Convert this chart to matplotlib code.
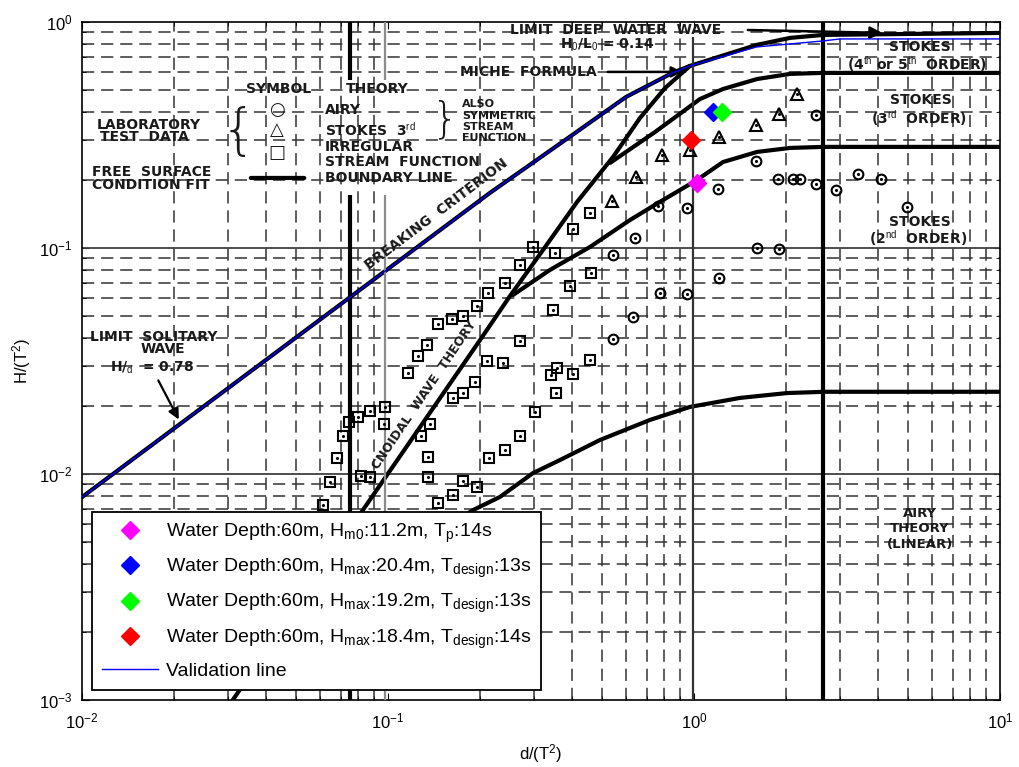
import matplotlib
matplotlib.use("Agg")
import matplotlib.pyplot as plt

plt.rcParams['font.family'] = ['Liberation Sans', 'DejaVu Sans']
plt.rcParams['mathtext.fontset'] = 'custom'
plt.rcParams['mathtext.rm'] = 'Liberation Sans'
plt.rcParams['mathtext.it'] = 'Liberation Sans:italic'
plt.rcParams['mathtext.bf'] = 'Liberation Sans:bold'
plt.rcParams['axes.unicode_minus'] = False

# validation line (blue)
valid_x = [0.01, 0.137, 0.215, 0.40, 0.60, 0.85, 0.97, 1.6, 2.64, 3.0, 10]
valid_y = [0.0079, 0.111, 0.175, 0.316, 0.466, 0.595, 0.639, 0.775, 0.824, 0.841, 0.841]

# boundary lines of the background diagram
break_x = [0.01, 0.137, 0.215, 0.40, 0.60, 0.85, 0.97, 1.6, 2.06, 2.64, 10]
break_y = [0.0079, 0.111, 0.175, 0.316, 0.466, 0.595, 0.639, 0.791, 0.85, 0.876, 0.894]
cnoidal_x = [0.0311, 0.0828, 0.200, 0.2504, 0.321, 0.415, 0.544, 0.666, 0.804, 0.97]
cnoidal_y = [0.001, 0.00693, 0.0392, 0.0613, 0.098, 0.160, 0.253, 0.376, 0.510, 0.639]
stokes5_x = [0.532, 0.746, 1.046, 1.244, 1.607, 2.06, 2.64, 10]
stokes5_y = [0.238, 0.326, 0.456, 0.505, 0.559, 0.589, 0.595, 0.595]
stokes3_x = [0.256, 0.338, 0.457, 0.618, 0.774, 1.023, 1.244, 1.607, 2.06, 2.64, 10]
stokes3_y = [0.0619, 0.0799, 0.101, 0.133, 0.160, 0.200, 0.240, 0.266, 0.277, 0.280, 0.280]
stokes2_x = [0.0942, 0.190, 0.232, 0.298, 0.365, 0.493, 0.718, 0.97, 1.413, 2.013, 2.68, 10]
stokes2_y = [0.00384, 0.00693, 0.00791, 0.0101, 0.01153, 0.01414, 0.01734, 0.0198, 0.0217,
             0.0228, 0.0231, 0.0231]

# vertical / horizontal lines of the scan
free_x = [0.0751, 0.0977]
free_top = [0.554, 1.0]
free_low = [0.001, 0.1716]
miche_x = 0.992
miche_span = [0.001, 0.858]
deep_x = 2.64
deep_span = [0.001, 1.0]
major_levels = [0.1, 0.01]

# laboratory data of the background diagram
square_x = [0.241, 0.212, 0.195, 0.176, 0.162, 0.146, 0.134, 0.125, 0.116, 0.211, 0.238, 0.193,
            0.176, 0.163, 0.137, 0.128, 0.0977, 0.0970, 0.0873, 0.0798, 0.0746, 0.0713, 0.0681,
            0.241, 0.214, 0.135, 0.135, 0.0816, 0.0873, 0.0646, 0.0613, 0.176, 0.195, 0.163, 0.146,
            0.457, 0.402, 0.298, 0.351, 0.270, 0.461, 0.393, 0.346, 0.270, 0.457, 0.357, 0.341,
            0.402, 0.354, 0.302, 0.270]
square_y = [0.0700, 0.0632, 0.0554, 0.0500, 0.0485, 0.0461, 0.0372, 0.0333, 0.0280, 0.0316,
            0.0310, 0.0255, 0.0228, 0.0217, 0.0166, 0.0147, 0.0198, 0.0166, 0.0190, 0.0179,
            0.0170, 0.0147, 0.0118, 0.0128, 0.0118, 0.0119, 0.0097, 0.0098, 0.0097, 0.00922,
            0.00729, 0.0093, 0.00876, 0.00807, 0.00744, 0.143, 0.121, 0.101, 0.0950, 0.0841,
            0.0775, 0.0679, 0.0532, 0.0388, 0.0319, 0.0294, 0.0274, 0.0277, 0.0228, 0.0188, 0.0147]
airy_x = [0.763, 0.949, 0.641, 0.544, 0.774, 0.949, 0.632, 0.544, 2.504, 1.595, 1.198, 1.882,
          2.106, 2.221, 2.504, 2.911, 3.435, 4.084, 4.968, 1.607, 1.896, 1.207]
airy_y = [0.153, 0.150, 0.111, 0.0931, 0.0632, 0.0626, 0.0495, 0.0396, 0.388, 0.243, 0.182,
          0.202, 0.202, 0.202, 0.192, 0.180, 0.213, 0.202, 0.152, 0.100, 0.0990, 0.0737]
stokes_x = [0.540, 0.646, 0.786, 0.970, 1.207, 1.595, 1.896, 2.171]
stokes_y = [0.161, 0.206, 0.258, 0.271, 0.310, 0.350, 0.392, 0.480]

# design waves
wave_labels = [r"Water Depth:60m, H$_{\mathrm{m0}}$:11.2m, T$_{\mathrm{p}}$:14s",
               r"Water Depth:60m, H$_{\mathrm{max}}$:20.4m, T$_{\mathrm{design}}$:13s",
               r"Water Depth:60m, H$_{\mathrm{max}}$:19.2m, T$_{\mathrm{design}}$:13s",
               r"Water Depth:60m, H$_{\mathrm{max}}$:18.4m, T$_{\mathrm{design}}$:14s"]
wave_x = [1.023, 1.153, 1.235, 0.978]
wave_y = [0.194, 0.400, 0.400, 0.301]
wave_colors = ['#FF00FF', '#0000FF', '#00FF00', '#FF0000']

fig = plt.figure(figsize=(10.19, 7.67), dpi=100)
ax = fig.add_axes([0.0805, 0.0874, 0.9009, 0.8840])
ax.set_xscale('log')
ax.set_yscale('log')
ax.set_xlim(1e-2, 1e1)
ax.set_ylim(1e-3, 1e0)
ax.set_axisbelow(True)

# dashed grid of the scanned diagram
ax.grid(True, which='minor', ls=(0, (8, 4.5)), color='0.2', lw=1.1)
for lev in major_levels:
    ax.axhline(lev, color='0.25', lw=1.3, zorder=1)

scan = dict(color='k', lw=3, solid_capstyle='round', zorder=3)
ax.plot(break_x, break_y, **scan)
ax.plot(cnoidal_x, cnoidal_y, **scan)
ax.plot(stokes5_x, stokes5_y, **scan)
ax.plot(stokes3_x, stokes3_y, **scan)
ax.plot(stokes2_x, stokes2_y, **scan)

ax.vlines(free_x[0], *free_top, color='k', lw=3, zorder=3)
ax.vlines(free_x[0], *free_low, color='k', lw=3, zorder=3)
ax.vlines(free_x[1], *free_top, color='0.55', lw=1.6, zorder=3)
ax.vlines(free_x[1], *free_low, color='0.55', lw=1.6, zorder=3)
ax.vlines(miche_x, *miche_span, color='0.2', lw=1.6, zorder=3)
ax.vlines(deep_x, *deep_span, color='k', lw=3, zorder=3)

mk = dict(ls='none', mfc='none', mec='k', mew=1.5, zorder=4)
ax.plot(square_x, square_y, marker='s', ms=7, **mk)
ax.plot(airy_x, airy_y, marker='o', ms=7, **mk)
ax.plot(stokes_x, stokes_y, marker='^', ms=8, **mk)
for xs, ys in [(square_x, square_y), (airy_x, airy_y), (stokes_x, stokes_y)]:
    ax.plot(xs, ys, 'k.', ms=2.5, zorder=4)

# texts of the scanned diagram
tkw = dict(transform=ax.transAxes, family='DejaVu Sans', weight='bold', color='0.1',
           fontsize=10, zorder=4)


def scan_text(fx, fy, s, ha='left', **kw):
    d = dict(tkw)
    d.update(kw)
    ax.text(fx, fy, s, ha=ha, va='center', **d)


scan_text(0.2146, 0.9012, 'SYMBOL', ha='center')
scan_text(0.3214, 0.9012, 'THEORY', ha='center')
scan_text(0.0163, 0.8481, 'LABORATORY')
scan_text(0.0196, 0.8304, 'TEST  DATA')
scan_text(0.0109, 0.7788, 'FREE  SURFACE')
scan_text(0.0109, 0.7596, 'CONDITION FIT')
scan_text(0.170, 0.836, '{', ha='center', fontsize=40, weight='light')
scan_text(0.2124, 0.8702, '\u25cb', ha='center', fontsize=13)
scan_text(0.2124, 0.8407, '\u25b3', ha='center', fontsize=13)
scan_text(0.2124, 0.8068, '\u25a1', ha='center', fontsize=13)
ax.annotate('', xy=(0.2451, 0.7699), xytext=(0.1808, 0.7699), xycoords='axes fraction',
            arrowprops=dict(arrowstyle='-', lw=3, color='k'))
scan_text(0.2647, 0.8702, 'AIRY')
scan_text(0.2647, 0.8407, r'STOKES  3$^{\rm rd}$')
scan_text(0.2647, 0.8156, 'IRREGULAR')
scan_text(0.2647, 0.7935, 'STREAM  FUNCTION')
scan_text(0.2647, 0.7699, 'BOUNDARY LINE')
scan_text(0.3954, 0.8555, '}', ha='center', fontsize=30, weight='light')
scan_text(0.4139, 0.8791, 'ALSO', fontsize=8)
scan_text(0.4139, 0.8620, 'SYMMETRIC', fontsize=8)
scan_text(0.4139, 0.8451, 'STREAM', fontsize=8)
scan_text(0.4139, 0.8282, 'FUNCTION', fontsize=8)

scan_text(0.4662, 0.9882, 'LIMIT  DEEP  WATER  WAVE')
ax.annotate('', xy=(0.8747, 0.9838), xytext=(0.7222, 0.9882), xycoords='axes fraction',
            arrowprops=dict(arrowstyle='-|>', lw=1.8, color='k', mutation_scale=18), zorder=4)
scan_text(0.5207, 0.9661, r'H$_0$/L$_0$ = 0.14', fontsize=10)
scan_text(0.4118, 0.9263, 'MICHE  FORMULA')
ax.annotate('', xy=(0.6569, 0.9263), xytext=(0.5697, 0.9263), xycoords='axes fraction',
            arrowprops=dict(arrowstyle='-|>', lw=1.8, color='k', mutation_scale=16), zorder=4)

scan_text(0.9129, 0.9631, 'STOKES', ha='center')
scan_text(0.9096, 0.9381, r'(4$^{\rm th}$ or 5$^{\rm th}$  ORDER)', ha='center')
scan_text(0.914, 0.885, 'STOKES', ha='center')
scan_text(0.9118, 0.8584, r'(3$^{\rm rd}$  ORDER)', ha='center')
scan_text(0.9129, 0.705, 'STOKES', ha='center')
scan_text(0.9107, 0.6814, r'(2$^{\rm nd}$  ORDER)', ha='center')
scan_text(0.9129, 0.2743, 'AIRY', ha='center', fontsize=9.5)
scan_text(0.9129, 0.2522, 'THEORY', ha='center', fontsize=9.5)
scan_text(0.9129, 0.2286, '(LINEAR)', ha='center', fontsize=9.5)

scan_text(0.0087, 0.5354, 'LIMIT  SOLITARY')
scan_text(0.0882, 0.5177, 'WAVE', ha='center')
scan_text(0.0305, 0.4897, r'H/$_{\rm d}$  = 0.78')
ax.annotate('', xy=(0.1068, 0.4100), xytext=(0.0817, 0.4749), xycoords='axes fraction',
            arrowprops=dict(arrowstyle='-|>', lw=1.6, color='k', mutation_scale=16), zorder=4)

scan_text(0.3856, 0.7168, 'BREAKING  CRITERION', ha='center', rotation=37,
          rotation_mode='anchor')
scan_text(0.3725, 0.4499, 'CNOIDAL  WAVE  THEORY', ha='center', rotation=56,
          rotation_mode='anchor', fontsize=9)

# overlay
line_valid, = ax.plot(valid_x, valid_y, color='#0000FF', lw=1, zorder=5)
handles = []
for x, y, c in zip(wave_x, wave_y, wave_colors):
    h, = ax.plot([x], [y], ls='none', marker='D', ms=9.5, color=c, mec=c, zorder=6)
    handles.append(h)
handles.append(line_valid)

leg = ax.legend(handles, wave_labels + ['Validation line'], loc='lower left',
                bbox_to_anchor=(0.0109, 0.0147), borderaxespad=0, fontsize=14,
                fancybox=False, framealpha=1, edgecolor='k', handlelength=2.9,
                handletextpad=0.4, labelspacing=0.62, borderpad=0.5)
leg.get_frame().set_linewidth(1.3)
leg.set_zorder(10)

ax.set_xlabel('d/(T$^2$)', fontsize=12, labelpad=8)
ax.set_ylabel('H/(T$^2$)', fontsize=12, labelpad=4)
ax.tick_params(which='both', direction='in', labelsize=12, top=True, right=True)
ax.tick_params(which='major', length=5)
ax.tick_params(which='minor', length=3)
ax.tick_params(axis='x', which='major', pad=8)
ax.tick_params(axis='y', which='major', pad=7)
for sp in ax.spines.values():
    sp.set_linewidth(1.2)

fig.savefig('out.png', dpi=100)
